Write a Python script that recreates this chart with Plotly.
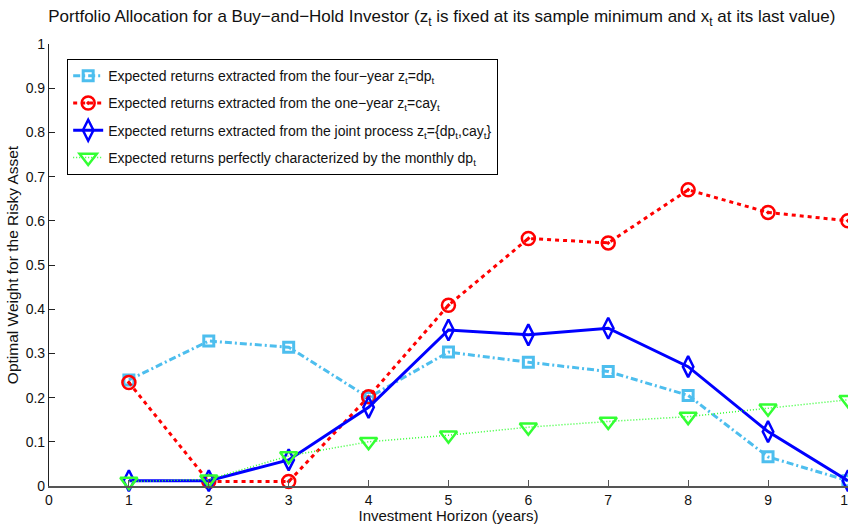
import plotly.graph_objects as go

horizon = [1, 2, 3, 4, 5, 6, 7, 8, 9, 10]
four_year_dp = [0.24, 0.328, 0.314, 0.20, 0.303, 0.28, 0.259, 0.205, 0.066, 0.012]
one_year_cay = [0.234, 0.01, 0.01, 0.202, 0.409, 0.560, 0.550, 0.670, 0.619, 0.600]
joint_process = [0.012, 0.012, 0.059, 0.178, 0.353, 0.342, 0.357, 0.270, 0.123, 0.012]
monthly_dp = [0.01, 0.015, 0.068, 0.10, 0.115, 0.133, 0.146, 0.157, 0.176, 0.195]

names = [
    "Expected returns extracted from the four\u2212year z<sub>t</sub>=dp<sub>t</sub>",
    "Expected returns extracted from the one\u2212year z<sub>t</sub>=cay<sub>t</sub>",
    "Expected returns extracted from the joint process z<sub>t</sub>={dp<sub>t</sub>,cay<sub>t</sub>}",
    "Expected returns perfectly characterized by the monthly dp<sub>t</sub>",
]

FONT = "Liberation Sans, Arial, sans-serif"

fig = go.Figure()
fig.add_trace(go.Scatter(
    x=horizon, y=four_year_dp, name=names[0], mode="lines+markers", legendgroup="a",
    line=dict(color="#4DBEEE", width=3, dash="7px,3px,2px,3px"),
    marker=dict(symbol="square-open", size=10, line=dict(width=3, color="#4DBEEE")),
    cliponaxis=False,
))
fig.add_trace(go.Scatter(
    x=horizon, y=one_year_cay, name=names[1], mode="lines+markers", legendgroup="b",
    line=dict(color="#FF0000", width=3, dash="4px,4px"),
    marker=dict(symbol="circle-open-dot", size=13, line=dict(width=2.5, color="#FF0000")),
    cliponaxis=False,
))
fig.add_trace(go.Scatter(
    x=horizon, y=joint_process, name=names[2], mode="lines+markers", legendgroup="c",
    line=dict(color="#0000FF", width=3),
    marker=dict(symbol="diamond-tall-open", size=15, line=dict(width=2.5, color="#0000FF")),
    cliponaxis=False,
))
fig.add_trace(go.Scatter(
    x=horizon, y=monthly_dp, name=names[3], mode="lines+markers", legendgroup="d",
    line=dict(color="#33FF33", width=1.5, dash="1px,2px"),
    marker=dict(symbol="triangle-down-open", size=15, line=dict(width=2.5, color="#00EE00")),
    cliponaxis=False,
))

fig.update_layout(
    width=848, height=524,
    margin=dict(l=49, r=0, t=44, b=38, autoexpand=False),
    paper_bgcolor="white", plot_bgcolor="white",
    font=dict(family=FONT, size=14, color="#111"),
    title=dict(
        text="Portfolio Allocation for a Buy\u2212and\u2212Hold Investor (z<sub>t</sub> is fixed at its sample minimum and x<sub>t</sub> at its last value)",
        x=0.521, xanchor="center", y=0.98, yanchor="top",
        font=dict(family=FONT, size=17, color="#111"),
    ),
    showlegend=True,
    legend=dict(
        x=0.0225, y=0.966, xanchor="left", yanchor="top",
        bgcolor="white", bordercolor="black", borderwidth=1.2,
        font=dict(family=FONT, size=14, color="#111"),
        tracegroupgap=6, itemwidth=30,
    ),
    xaxis=dict(
        range=[0, 10.001], tickvals=list(range(0, 11)), ticktext=[str(v) for v in range(0, 11)],
        showgrid=False, zeroline=False, showline=True, linecolor="#555", linewidth=1.5,
        ticks="inside", ticklen=6, tickcolor="#555", tickwidth=1,
        title=dict(text="Investment Horizon (years)", standoff=0, font=dict(size=15)),
        tickfont=dict(size=14), automargin=False, ticklabeloverflow="allow",
    ),
    yaxis=dict(
        range=[0, 1], tickvals=[0, 0.1, 0.2, 0.3, 0.4, 0.5, 0.6, 0.7, 0.8, 0.9, 1],
        ticktext=["0", "0.1", "0.2", "0.3", "0.4", "0.5", "0.6", "0.7", "0.8", "0.9", "1"],
        showgrid=False, zeroline=False, showline=True, linecolor="#222", linewidth=1.2,
        ticks="inside", ticklen=6, tickcolor="#222", tickwidth=1,
        title=dict(text="Optimal Weight for the Risky Asset", standoff=3, font=dict(size=15.5)),
        tickfont=dict(size=14), automargin=False,
    ),
)

fig.write_html(
    "out.html",
    config={"displayModeBar": False},
    post_script="document.body.style.margin='0';document.body.style.overflow='hidden';",
)
